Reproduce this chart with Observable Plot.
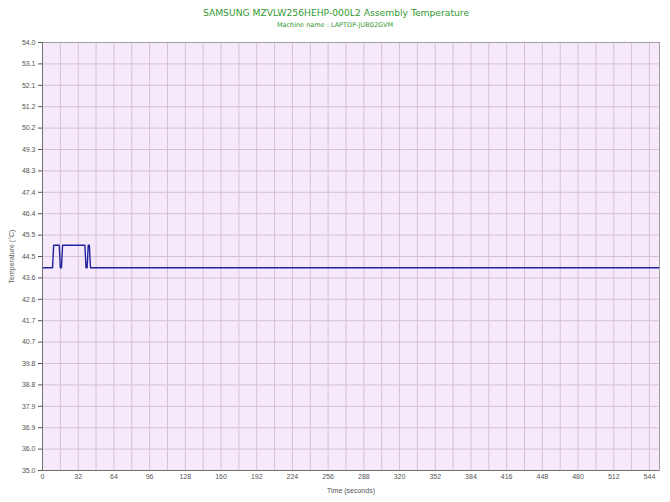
<!DOCTYPE html>
<html><head><meta charset="utf-8">
<script src="https://cdn.jsdelivr.net/npm/d3@7"></script>
<script src="https://cdn.jsdelivr.net/npm/@observablehq/plot@0.6"></script>
<style>body{margin:0;background:#fff}</style></head>
<body><div id="c"></div>
<script>
const title = "SAMSUNG MZVLW256HEHP-000L2 Assembly Temperature";
const subtitle = "Machine name : LAPTOP-JUB02GVM";
const xLabel = "Time (seconds)";
const yLabel = "Temperature (°C)";

const timeSec = [0, 9, 10, 15, 16, 17, 18, 38, 39, 40, 41, 42, 43, 553];
const tempC   = [44, 44, 45, 45, 44, 44, 45, 45, 44, 44, 45, 45, 44, 44];

const yTicks = [35, 35.95, 36.9, 37.85, 38.8, 39.75, 40.7, 41.65, 42.6, 43.55, 44.5,
                45.45, 46.4, 47.35, 48.3, 49.25, 50.2, 51.15, 52.1, 53.05, 54];
const yTickLabels = ["35.0","36.0","36.9","37.9","38.8","39.8","40.7","41.7","42.6","43.6","44.5",
                     "45.5","46.4","47.4","48.3","49.3","50.2","51.2","52.1","53.1","54.0"];
const xTicks = [0, 32, 64, 96, 128, 160, 192, 224, 256, 288, 320, 352, 384, 416, 448, 480, 512, 544];
const xGrid = [16, 32, 48, 64, 80, 96, 112, 128, 144, 160, 176, 192, 208, 224, 240, 256, 272, 288,
               304, 320, 336, 352, 368, 384, 400, 416, 432, 448, 464, 480, 496, 512, 528, 544];

const data = timeSec.map((t, i) => ({t, v: tempC[i]}));
const yLab = new Map(yTicks.map((d, i) => [d, yTickLabels[i]]));

const chart = Plot.plot({
  width: 670, height: 502,
  marginLeft: 42, marginRight: 11, marginTop: 42, marginBottom: 32,
  style: {fontFamily: "Liberation Sans, Arial, sans-serif", fontSize: "7px", color: "#555", background: "#fff"},
  x: {domain: [0, 553]},
  y: {domain: [35, 54]},
  marks: [
    Plot.frame({fill: "#f6e9fc", stroke: null}),
    Plot.gridX(xGrid, {stroke: "#d5c0d8", strokeOpacity: 1}),
    Plot.gridY(yTicks.slice(1, -1), {stroke: "#d5c0d8", strokeOpacity: 1}),
    Plot.axisX(xTicks, {tickSize: 0, tickPadding: 4, fill: "#555", label: xLabel, labelAnchor: "center", labelArrow: "none", labelOffset: 22}),
    Plot.axisY(yTicks, {tickSize: 4, tickPadding: 3, fill: "#555", tickFormat: d => yLab.get(d), label: yLabel, labelAnchor: "center", labelArrow: "none", labelOffset: 33}),
    Plot.line(data, {x: "t", y: "v", stroke: "#22229a", strokeWidth: 1.4}),
    Plot.frame({stroke: "#a0a0a0"}),
    Plot.ruleX([0], {stroke: "#707070"}),
    Plot.ruleY([35], {stroke: "#707070"}),
    Plot.text([title], {frameAnchor: "top", dx: -15, dy: -29, lineAnchor: "middle", fill: "#339933", fontSize: 9.2, fontFamily: "DejaVu Sans, Verdana, sans-serif"}),
    Plot.text([subtitle], {frameAnchor: "top", dx: -16, dy: -18, lineAnchor: "middle", fill: "#339933", fontSize: 6.5, fontFamily: "DejaVu Sans, Verdana, sans-serif"})
  ]
});
document.getElementById("c").appendChild(chart);
</script></body></html>
